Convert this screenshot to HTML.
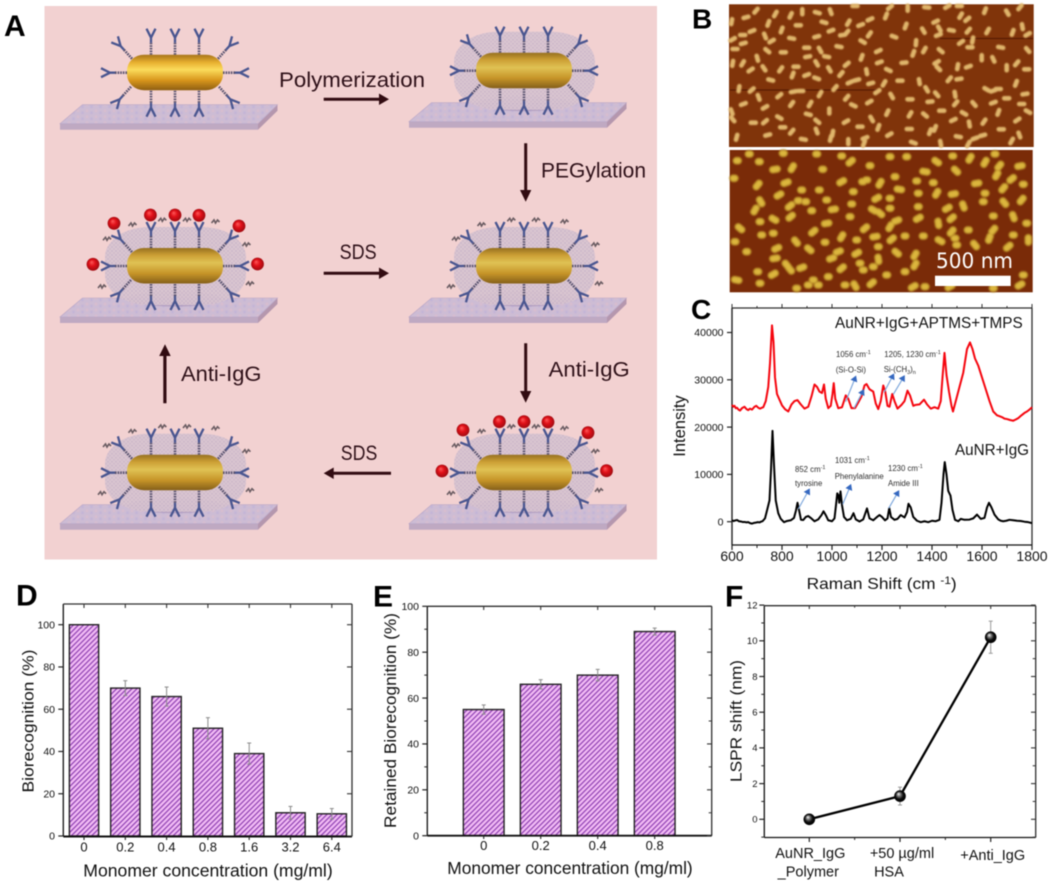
<!DOCTYPE html>
<html lang="en">
<head>
<meta charset="utf-8">
<title>Nanorod biorecognition figure</title>
<style>
html,body{margin:0;padding:0;background:#fff;}
body{width:1050px;height:885px;overflow:hidden;}
svg{display:block;filter:blur(.55px);font-family:"Liberation Sans",sans-serif;}
</style>
</head>
<body>
<svg id="figure" width="1050" height="885" viewBox="0 0 1050 885">
<defs>
  <filter id="soft" x="-5%" y="-5%" width="110%" height="110%"><feGaussianBlur stdDeviation=".7"/></filter>
  <linearGradient id="rodBright" x1="0" y1="0" x2="0" y2="1">
    <stop offset="0" stop-color="#a8741a"/><stop offset=".22" stop-color="#e8b030"/><stop offset=".42" stop-color="#fbdc5c"/><stop offset=".72" stop-color="#d8961c"/><stop offset="1" stop-color="#8f5f12"/>
  </linearGradient>
  <linearGradient id="rodDull" x1="0" y1="0" x2="0" y2="1">
    <stop offset="0" stop-color="#96701f"/><stop offset=".2" stop-color="#cc9f34"/><stop offset=".42" stop-color="#e0c254"/><stop offset=".72" stop-color="#c69428"/><stop offset="1" stop-color="#85601a"/>
  </linearGradient>
  <radialGradient id="ballRed" cx=".5" cy=".5" r=".55" fx=".38" fy=".32">
    <stop offset="0" stop-color="#ff5a5a"/><stop offset=".45" stop-color="#e01018"/><stop offset="1" stop-color="#960a10"/>
  </radialGradient>
  <radialGradient id="sphere" cx=".5" cy=".5" r=".55" fx=".36" fy=".3">
    <stop offset="0" stop-color="#ffffff"/><stop offset=".3" stop-color="#777"/><stop offset=".62" stop-color="#0a0a0a"/><stop offset="1" stop-color="#000"/>
  </radialGradient>
  <pattern id="hatch" width="3.6" height="3.6" patternUnits="userSpaceOnUse" patternTransform="rotate(45)">
    <rect width="3.6" height="3.6" fill="#f2bcf5"/>
    <rect width="1.3" height="3.6" fill="#9448b6"/>
  </pattern>
  <pattern id="stipple" width="4" height="4" patternUnits="userSpaceOnUse">
    <rect width="4" height="4" fill="#d8c4d0"/>
    <circle cx="1" cy="1" r=".8" fill="#c3aec6"/>
    <circle cx="3" cy="3" r=".8" fill="#c8b3c8"/>
  </pattern>
  <pattern id="mottle" width="9" height="6" patternUnits="userSpaceOnUse">
    <rect width="9" height="6" fill="#cdbcd4"/>
    <circle cx="2" cy="2" r="1.6" fill="#d6bdd0"/>
    <circle cx="6.5" cy="4" r="1.4" fill="#c4b5d6"/>
  </pattern>
  <g id="antibody">
    <line x1="0" y1="0" x2="0" y2="-12" stroke="#5a5470" stroke-width="2.6" stroke-dasharray="1.6 1"/>
    <path d="M0-12V-17M-4.5-26L0-17L4.5-26" fill="none" stroke="#4a5690" stroke-width="2.3"/>
  </g>
  <path id="peg" d="M-4 2L-1.5-1L0 2L2-1L4 1" fill="none" stroke="#6a5c62" stroke-width="1.6"/>
</defs>

<rect width="1050" height="885" fill="#ffffff"/>

<g id="panelA">
  <rect x="44.5" y="6" width="612.5" height="553.5" fill="#f2d1d1"/>
  <g id="units"></g>
  <g fill="#320c12" stroke="#320c12">
    <path d="M323.7 97.8H379V93.5L389 99.3L379 105V100.8H323.7Z" stroke="none"/>
    <path d="M524.2 143.3H527.2V190H531.3L525.7 201.7L520 190H524.2Z" stroke="none"/>
    <path d="M323.7 271.8H379V267.5L389 273.3L379 279V274.8H323.7Z" stroke="none"/>
    <path d="M524.2 343.3H527.2V391H531.3L525.7 402.7L520 391H524.2Z" stroke="none"/>
    <path d="M391 471.8H333.7V467.5L323.7 473.3L333.7 479V474.8H391Z" stroke="none"/>
    <path d="M163.3 403.3H166.5V356H170.7L165 344.3L159.2 356H163.3Z" stroke="none"/>
  </g>
  <g fill="#2e1018" font-size="21.5">
    <text x="279" y="87" textLength="146" lengthAdjust="spacingAndGlyphs">Polymerization</text>
    <text x="541" y="177.5" textLength="105" lengthAdjust="spacingAndGlyphs">PEGylation</text>
    <text x="339.6" y="259" textLength="37" lengthAdjust="spacingAndGlyphs">SDS</text>
    <text x="548.7" y="376.5" textLength="81" lengthAdjust="spacingAndGlyphs">Anti-IgG</text>
    <text x="181" y="381" textLength="80.5" lengthAdjust="spacingAndGlyphs">Anti-IgG</text>
    <text x="340.8" y="460" textLength="36.5" lengthAdjust="spacingAndGlyphs">SDS</text>
  </g>
</g>

<g id="panelB">
  <rect x="729" y="4.3" width="304.7" height="142.7" fill="#80340a"/>
  <rect x="729.7" y="150" width="303" height="142.3" fill="#7a2b08"/>
  <path d="M940 38.5H1033M730 90H880" stroke="#5a1c03" stroke-width="1.2" fill="none"/>
  <g filter="url(#soft)">
    <path id="rodsTop" fill="none" stroke="#e0b66c" stroke-width="4.6" stroke-linecap="round"/>
    <path id="rodsBottom" fill="none" stroke="#b88a26" stroke-width="7.8" stroke-linecap="round"/>
    <path id="rodsBottomCore" fill="none" stroke="#dcb63e" stroke-width="4.8" stroke-linecap="round"/>
  </g>
  <rect x="935" y="275.7" width="75.7" height="10.3" fill="#ffffff"/>
  <text x="936" y="268" font-family="'DejaVu Sans',sans-serif" font-size="21" fill="#ffffff" textLength="77" lengthAdjust="spacingAndGlyphs">500 nm</text>
</g>

<g id="panelC">
  <g id="cAxes"></g>
  <path id="redLine" fill="none" stroke="#f5060f" stroke-width="2" stroke-linejoin="round"/>
  <path id="blackLine" fill="none" stroke="#000" stroke-width="2" stroke-linejoin="round"/>
  <text x="835" y="328" font-size="16" fill="#111" textLength="187.7" lengthAdjust="spacingAndGlyphs">AuNR+IgG+APTMS+TMPS</text>
  <text x="955" y="455" font-size="16" fill="#111" textLength="74" lengthAdjust="spacingAndGlyphs">AuNR+IgG</text>
  <g font-size="7.8" fill="#2e2e2e">
    <text x="836" y="357">1056 cm<tspan dy="-3" font-size="5.5">-1</tspan></text>
    <text x="835.7" y="372.7">(Si-O-Si)</text>
    <text x="884.3" y="357">1205, 1230 cm<tspan dy="-3" font-size="5.5">-1</tspan></text>
    <text x="883.7" y="372">Si-(CH<tspan dy="2" font-size="5.5">3</tspan><tspan dy="-2">)</tspan><tspan dy="2" font-size="5.5">n</tspan></text>
    <text x="795" y="472">852 cm<tspan dy="-3" font-size="5.5">-1</tspan></text>
    <text x="795" y="486">tyrosine</text>
    <text x="835" y="463">1031 cm<tspan dy="-3" font-size="5.5">-1</tspan></text>
    <text x="834.7" y="479">Phenylalanine</text>
    <text x="888" y="471">1230 cm<tspan dy="-3" font-size="5.5">-1</tspan></text>
    <text x="888" y="486">Amide III</text>
  </g>
  <g id="peakArrows"></g>
  <text transform="translate(685,426) rotate(-90)" text-anchor="middle" font-size="16.5" fill="#111">Intensity</text>
  <text x="806.7" y="589" font-size="16" fill="#111" textLength="150" lengthAdjust="spacingAndGlyphs">Raman Shift (cm <tspan dy="-5" font-size="11">-1</tspan><tspan dy="5">)</tspan></text>
</g>

<g id="panelD">
  <g id="dChart"></g>
  <text transform="translate(33.5,721) rotate(-90)" text-anchor="middle" font-size="16" fill="#111" textLength="143" lengthAdjust="spacingAndGlyphs">Biorecognition (%)</text>
  <text x="83.3" y="876.5" font-size="17.5" fill="#111" textLength="249.4" lengthAdjust="spacingAndGlyphs">Monomer concentration (mg/ml)</text>
</g>

<g id="panelE">
  <g id="eChart"></g>
  <text transform="translate(396,720.5) rotate(-90)" text-anchor="middle" font-size="16.5" fill="#111" textLength="215" lengthAdjust="spacingAndGlyphs">Retained Biorecognition (%)</text>
  <text x="447.3" y="874" font-size="17.2" fill="#111" textLength="245.4" lengthAdjust="spacingAndGlyphs">Monomer concentration (mg/ml)</text>
</g>

<g id="panelF">
  <g id="fChart"></g>
  <text transform="translate(741.7,721) rotate(-90)" text-anchor="middle" font-size="15.5" fill="#111" textLength="122" lengthAdjust="spacingAndGlyphs">LSPR shift (nm)</text>
</g>

<g font-weight="700" fill="#000">
  <text x="4" y="36" font-size="30">A</text>
  <text x="692" y="28.3" font-size="28">B</text>
  <text x="691" y="319" font-size="28">C</text>
  <text x="16" y="605.5" font-size="30">D</text>
  <text x="373" y="606.5" font-size="30">E</text>
  <text x="725" y="606.5" font-size="30">F</text>
</g>
</svg>

<script>
/* ---------- Chart data ---------- */
const ramanTicksX = [600,800,1000,1200,1400,1600,1800];
const ramanMinorX = [700,900,1100,1300,1500,1700];
const ramanTicksY = [0,10000,20000,30000,40000];

const blackShift = [600,606,612,620,628,635,642,650,658,665,672,680,688,695,702,710,716,722,732,742,750,756,762,768,775,785,795,808,820,835,848,856,862,868,876,885,895,905,915,930,945,958,966,975,985,1000,1010,1016,1021,1026,1029,1034,1040,1048,1060,1075,1086,1095,1110,1125,1140,1150,1165,1180,1190,1200,1212,1222,1229,1236,1250,1262,1275,1290,1300,1306,1315,1325,1340,1355,1370,1385,1400,1415,1430,1438,1446,1451,1458,1465,1474,1482,1492,1505,1515,1530,1550,1565,1580,1595,1610,1620,1628,1638,1650,1665,1675,1685,1697,1710,1725,1740,1755,1770,1785,1800];
const blackIntensity = [300,150,250,350,100,50,-50,-50,-150,-100,-300,-400,-250,-200,-100,-150,0,100,700,2800,4500,11000,19200,12000,4500,1800,600,-100,150,300,800,2400,4000,2500,400,350,1000,1200,800,100,500,1400,2200,1400,300,100,700,3500,6000,5500,4000,6400,3500,1000,300,600,1800,500,50,500,2800,700,300,1000,1400,1000,300,700,2900,1000,400,600,1400,900,2000,3800,3000,1000,200,-100,100,-100,200,100,400,4000,10000,12600,10000,6500,5500,2500,400,100,600,400,450,700,1500,600,800,3000,4000,3000,1500,500,200,100,200,400,300,200,150,0,-100,-300];

const redShift = [600,605,610,615,620,626,632,640,650,658,665,672,680,690,697,705,712,720,725,735,745,752,760,766,772,780,790,800,812,825,838,850,862,875,890,905,918,930,940,950,960,968,975,985,995,1002,1007,1013,1025,1040,1055,1065,1078,1092,1105,1118,1130,1138,1150,1165,1175,1185,1195,1205,1213,1222,1230,1241,1250,1262,1278,1290,1302,1312,1325,1335,1350,1368,1380,1395,1410,1425,1435,1442,1450,1458,1468,1478,1484,1495,1510,1525,1540,1552,1562,1572,1585,1600,1615,1630,1645,1660,1670,1680,1690,1700,1712,1725,1735,1745,1758,1770,1780,1790,1800];
const redIntensity = [24700,24300,24500,24000,24100,23700,23500,24000,24300,23800,23600,23900,23700,24300,24500,24100,23900,24100,24200,25500,28500,33500,41500,38000,30500,27000,25800,24600,23800,23300,24800,25500,25700,24800,23900,24300,26500,29000,28500,27500,27200,29000,26000,24000,24500,27000,29300,26000,24000,24200,26700,26000,24000,24000,25200,26500,28800,29100,28000,27500,25000,23800,25500,28800,27500,24500,24300,27000,25500,23900,24700,25500,27700,26700,24500,24700,24800,25800,24800,23900,24200,23900,25500,30500,35700,31000,27500,24500,23300,25500,28500,31500,36500,37900,36500,34500,33000,30500,28000,25500,23300,22500,22300,22100,21800,21700,21500,21350,21600,21900,22500,23000,23300,23700,24200];

const dCategories = ['0','0.2','0.4','0.8','1.6','3.2','6.4'];
const dValues = [100,70,66,51,39,11,10.5];
const dErrors = [0,3.5,4.5,5,5,3,2.5];
const dTicksY = [0,20,40,60,80,100];

const eCategories = ['0','0.2','0.4','0.8'];
const eValues = [55,66,70,89];
const eErrors = [2,2,2.5,1.5];
const eTicksY = [0,20,40,60,80,100];
const eMinorY = [10,30,50,70,90];

const fCategories = [['AuNR_IgG','_Polymer'],['+50 µg/ml','HSA'],['+Anti_IgG']];
const fValues = [0,1.3,10.2];
const fErrors = [0,0.5,0.9];
const fTicksY = [0,2,4,6,8,10,12];
const fMinorY = [-1,1,3,5,7,9,11];

/* ---------- Axis functions ---------- */
const xC = w => 732 + (w - 600) * 0.25;
const yC = v => 521.7 - v * 0.00473;
const xD = i => 84 + i * 41.3;
const yD = v => 836 - v * 2.113;
const xE = i => 483.7 + i * 57;
const yE = v => 835.7 - v * 2.294;
const xF = i => 809.3 + i * 90.7;
const yF = v => 819.3 - v * 17.85;

/* ---------- Drawing helpers ---------- */
const root = document.getElementById('figure');
function make(tag, parent, attrs, name) {
  const n = document.createElementNS(root.namespaceURI, tag);
  for (const k in attrs) n.setAttribute(k, attrs[k]);
  
  
  parent.appendChild(n);
  return n;
}
function seg(parent, x1, y1, x2, y2, stroke, w, name) {
  return make('line', parent, {x1, y1, x2, y2, stroke, 'stroke-width': w}, name);
}
function txt(parent, x, y, s, size, anchor, fill, name) {
  const t = make('text', parent, {x, y, 'font-size': size, 'text-anchor': anchor, fill}, name);
  t.textContent = s;
  return t;
}
function frame(parent, l, t, r, b, thickBottom) {
  seg(parent, l, t, r, t, '#2e2e2e', 1.3, 'frame-top');
  seg(parent, r, t, r, b, '#2e2e2e', 1.3, 'frame-right');
  seg(parent, l, t, l, b, '#222', 1.4, 'frame-left');
  seg(parent, l, b, r, b, '#111', thickBottom, 'frame-bottom');
}
function barSeries(parent, cats, vals, errs, xf, yf, w, base, labelY) {
  cats.forEach((c, i) => {
    const top = yf(vals[i]);
    make('rect', parent, {x: xf(i) - w / 2, y: top, width: w, height: base - top, fill: 'url(#hatch)', stroke: '#222', 'stroke-width': 1.4}, 'bar-' + c);
    if (errs[i] > 0) {
      const u = yf(vals[i] + errs[i]), d = yf(vals[i] - errs[i]);
      seg(parent, xf(i), u, xf(i), d, '#8a8a8a', 1, 'error-bar-' + c);
      seg(parent, xf(i) - 2, u, xf(i) + 2, u, '#8a8a8a', 1, 'error-cap-upper-' + c);
      seg(parent, xf(i) - 2, d, xf(i) + 2, d, '#8a8a8a', 1, 'error-cap-lower-' + c);
    }
    txt(parent, xf(i), labelY, c, 13, 'middle', '#111', 'x-tick-label-' + c);
  });
}

/* ---------- Panel C ---------- */
const cAxes = document.getElementById('cAxes');
frame(cAxes, 732, 308, 1032, 545, 1.3);
ramanTicksX.forEach(t => {
  seg(cAxes, xC(t), 545, xC(t), 550, '#222', 1.2, 'x-tick-' + t);
  seg(cAxes, xC(t), 308, xC(t), 304, '#333', 1, 'x-top-tick-' + t);
  txt(cAxes, xC(t), 561, String(t), 14, 'middle', '#111', 'x-tick-label-' + t);
});
ramanMinorX.forEach(t => {
  seg(cAxes, xC(t), 545, xC(t), 548, '#222', 1, 'x-minor-tick-' + t);
  seg(cAxes, xC(t), 308, xC(t), 306, '#333', 1, 'x-top-minor-tick-' + t);
});
ramanTicksY.forEach(t => {
  seg(cAxes, 732, yC(t), 727, yC(t), '#222', 1.2, 'y-tick-' + t);
  txt(cAxes, 723.5, yC(t) + 3.7, String(t), 10.5, 'end', '#111', 'y-tick-label-' + t);
});
function linePath(xs, ys) {
  return xs.map((x, i) => (i ? 'L' : 'M') + xC(x).toFixed(2) + ' ' + yC(ys[i]).toFixed(2)).join('');
}
document.getElementById('redLine').setAttribute('d', linePath(redShift, redIntensity));
document.getElementById('blackLine').setAttribute('d', linePath(blackShift, blackIntensity));

const peakArrowG = document.getElementById('peakArrows');
[[845.7,401.7,855,378.3],[854,408.3,862.7,391.7],[884,392.3,892.7,376],[893.3,394.3,903.3,377.7],[798.3,509,808.3,491],[842.7,504.3,850,486.7],[888.7,508.3,897.7,492.7]].forEach((a, i) => {
  seg(peakArrowG, a[0], a[1], a[2], a[3], '#7fa8dc', 1.2, 'peak-arrow-shaft-' + i);
  const ang = Math.atan2(a[3] - a[1], a[2] - a[0]);
  const px = a[2] + Math.cos(ang) * 3, py = a[3] + Math.sin(ang) * 3;
  const bx = a[2] - Math.cos(ang) * 3, by = a[3] - Math.sin(ang) * 3;
  const nx = -Math.sin(ang) * 3.6, ny = Math.cos(ang) * 3.6;
  make('polygon', peakArrowG, {points: [px, py, bx + nx, by + ny, bx - nx, by - ny].map(v => v.toFixed(1)).join(' '), fill: '#3568c0'}, 'peak-arrow-head-' + i);
});

/* ---------- Panel D ---------- */
const dG = document.getElementById('dChart');
barSeries(dG, dCategories, dValues, dErrors, xD, yD, 29.3, 836, 851.7);
frame(dG, 63.3, 604, 352, 836.5, 1.9);
dCategories.forEach((c, i) => {
  seg(dG, xD(i), 836.5, xD(i), 840, '#222', 1.1, 'x-tick-' + c);
  seg(dG, xD(i), 604, xD(i), 608, '#333', 1.1, 'x-top-tick-' + c);
});
dTicksY.forEach(t => {
  seg(dG, 63.3, yD(t), 58.3, yD(t), '#222', 1.2, 'y-tick-' + t);
  seg(dG, 352, yD(t), 347, yD(t), '#333', 1.1, 'y-right-tick-' + t);
  txt(dG, 55, yD(t) + 3.7, String(t), 10.5, 'end', '#111', 'y-tick-label-' + t);
});

/* ---------- Panel E ---------- */
const eG = document.getElementById('eChart');
barSeries(eG, eCategories, eValues, eErrors, xE, yE, 40.7, 835.7, 850);
frame(eG, 427.3, 606.3, 711.7, 835.7, 1.9);
eCategories.forEach((c, i) => {
  seg(eG, xE(i), 835.7, xE(i), 839, '#222', 1.1, 'x-tick-' + c);
  seg(eG, xE(i), 606.3, xE(i), 610, '#333', 1.1, 'x-top-tick-' + c);
});
eTicksY.forEach(t => {
  seg(eG, 427.3, yE(t), 422.3, yE(t), '#222', 1.2, 'y-tick-' + t);
  seg(eG, 711.7, yE(t), 707, yE(t), '#333', 1.1, 'y-right-tick-' + t);
  txt(eG, 419, yE(t) + 3.7, String(t), 10.5, 'end', '#111', 'y-tick-label-' + t);
});
eMinorY.forEach(t => {
  seg(eG, 427.3, yE(t), 424.3, yE(t), '#222', 1, 'y-minor-tick-' + t);
  seg(eG, 711.7, yE(t), 708.7, yE(t), '#333', 1, 'y-right-minor-tick-' + t);
});

/* ---------- Panel F ---------- */
const fG = document.getElementById('fChart');
frame(fG, 764.3, 605.7, 1035.7, 837.5, 1.3);
fTicksY.forEach(t => {
  seg(fG, 764.3, yF(t), 759.3, yF(t), '#222', 1.2, 'y-tick-' + t);
  seg(fG, 1035.7, yF(t), 1031, yF(t), '#333', 1.1, 'y-right-tick-' + t);
  txt(fG, 757.5, yF(t) + 3.3, String(t), 9.5, 'end', '#111', 'y-tick-label-' + t);
});
fMinorY.forEach(t => {
  seg(fG, 764.3, yF(t), 761.3, yF(t), '#222', 1, 'y-minor-tick-' + t);
  seg(fG, 1035.7, yF(t), 1032.7, yF(t), '#333', 1, 'y-right-minor-tick-' + t);
});
fCategories.forEach((c, i) => {
  seg(fG, xF(i), 837.5, xF(i), 842, '#222', 1.2, 'x-tick-' + i);
  seg(fG, xF(i), 605.7, xF(i), 609, '#333', 1.1, 'x-top-tick-' + i);
  if (i < fCategories.length - 1) {
    seg(fG, xF(i + 0.5), 837.5, xF(i + 0.5), 840, '#222', 1, 'x-minor-tick-' + i);
    seg(fG, xF(i + 0.5), 605.7, xF(i + 0.5), 607.7, '#333', 1, 'x-top-minor-tick-' + i);
  }
  txt(fG, xF(i) + (i === 2 ? 2 : i === 1 ? 2 : 1), c.length > 1 ? 858 : 860, c[0], 14.5, 'middle', '#111', 'x-tick-label-' + i);
  if (c[1]) txt(fG, xF(i) + (i === 1 ? -11 : -1), 876.7, c[1], 14.5, 'middle', '#111', 'x-tick-label-line2-' + i);
});
make('path', fG, {d: fValues.map((v, i) => (i ? 'L' : 'M') + xF(i) + ' ' + yF(v)).join(''), fill: 'none', stroke: '#000', 'stroke-width': 2.3}, 'lspr-line');
fValues.forEach((v, i) => {
  if (fErrors[i] > 0) {
    const u = yF(v + fErrors[i]), d = yF(v - fErrors[i]);
    seg(fG, xF(i), u, xF(i), d, '#999', 1, 'error-bar-' + i);
    seg(fG, xF(i) - 2, u, xF(i) + 2, u, '#999', 1, 'error-cap-upper-' + i);
    seg(fG, xF(i) - 2, d, xF(i) + 2, d, '#999', 1, 'error-cap-lower-' + i);
  }
  make('circle', fG, {cx: xF(i), cy: yF(v), r: 5.8, fill: 'url(#sphere)'}, 'lspr-point-' + i);
});

/* ---------- Panel A units ---------- */
const unitsG = document.getElementById('units');
const antibodySpots = [[-24,-18,0],[0,-18,0],[24,-18,0],[-24,18,180],[0,18,180],[24,18,180],[-48,0,-90],[48,0,90],[-43,-14,-42],[43,-14,42],[-44,14,-138],[44,14,138]];
const ballSpots = [[-24.6,-51],[0,-51],[24,-50.7],[-61,-42.7],[64,-40],[-82,-1.7],[82.5,-2]];
const pegSpots = [[-42.5,-42],[-12.7,-46.7],[12,-46.7],[40.5,-45],[-68,-27.7],[71.4,-22],[-73,20],[75,17]];
[
  {x:175,y:72.7,shell:false,balls:false,peg:false,name:'bare-nanorod'},
  {x:524,y:70.7,shell:true,balls:false,peg:false,name:'polymerized-nanorod'},
  {x:175,y:266,shell:true,balls:true,peg:true,name:'bound-nanorod-left'},
  {x:524,y:266,shell:true,balls:false,peg:true,name:'pegylated-nanorod'},
  {x:524,y:472.7,shell:true,balls:true,peg:true,name:'bound-nanorod-right'},
  {x:175,y:472.7,shell:true,balls:false,peg:true,name:'regenerated-nanorod'}
].forEach(u => {
  const g = make('g', unitsG, {transform: 'translate(' + u.x + ',' + u.y + ')'}, u.name);
  make('polygon', g, {points: '-115,51 83,51 83,57 -115,57', fill: '#bfa9c2'}, 'substrate-front');
  make('polygon', g, {points: '83,51 102.5,32 102.5,38 83,57', fill: '#b597ae'}, 'substrate-side');
  make('polygon', g, {points: '-92.5,32 102.5,32 83,51 -115,51', fill: 'url(#mottle)', stroke: '#b8a6c6', 'stroke-width': .6}, 'substrate-top');
  if (u.shell) {
    make('ellipse', g, {cx: 0, cy: 33, rx: 47, ry: 7.5, fill: '#a996bb', opacity: .7}, 'polymer-footprint');
    make('rect', g, {x: -70, y: -39, width: 141, height: 78, rx: 44, ry: 30, fill: 'url(#stipple)', opacity: .95}, 'polymer-shell');
  }
  antibodySpots.forEach((s, i) => {
    make('use', g, {href: '#antibody', transform: 'translate(' + s[0] + ',' + s[1] + ') rotate(' + s[2] + ')'}, 'antibody-' + i);
  });
  make('rect', g, {x: -48, y: -18, width: 96, height: 35.5, rx: 17, ry: 16, fill: u.shell ? 'url(#rodDull)' : 'url(#rodBright)'}, 'gold-nanorod');
  if (u.peg) pegSpots.forEach((s, i) => {
    make('use', g, {href: '#peg', transform: 'translate(' + s[0] + ',' + s[1] + ')'}, 'peg-chain-' + i);
  });
  if (u.balls) ballSpots.forEach((s, i) => {
    make('circle', g, {cx: s[0], cy: s[1], r: 6.4, fill: 'url(#ballRed)'}, 'anti-igg-' + i);
  });
});

/* ---------- Panel B rods: x, y, angle (3x crop coordinates) ---------- */
const topRods = [[288,32,-50],[346,42,-60],[392,46,-65],[427,35,90],[472,38,15],[512,35,70],[585,18,0],[690,22,-40],[743,25,90],[800,22,5],[862,20,-30],[898,18,0],[975,32,-70],[1042,38,60],[1080,22,-50],[678,48,-70],[902,47,-60],[258,52,-15],[215,65,-80],[325,70,-70],[415,76,0],[492,67,15],[565,68,-60],[602,75,-20],[630,58,-25],[737,78,-70],[827,65,-25],[922,58,-40],[1087,80,80],[276,93,-20],[248,105,0],[365,90,-70],[513,92,-20],[560,98,-50],[628,103,-55],[702,110,20],[790,92,60],[838,86,60],[874,91,10],[925,92,-50],[983,93,-60],[1058,97,-70],[1103,103,-30],[835,105,-20],[315,108,70],[395,115,10],[470,110,-15],[548,105,-10],[218,118,-30],[250,130,-15],[335,123,-30],[225,147,0],[322,152,40],[370,157,0],[440,143,0],[480,150,60],[537,140,10],[608,125,30],[655,153,-25],[768,128,-85],[760,160,-70],[793,150,-60],[842,152,40],[903,127,-35],[938,120,-80],[930,142,0],[1022,142,10],[1103,150,50],[292,175,75],[248,190,-60],[218,190,-80],[443,170,-10],[500,170,10],[605,172,-70],[658,187,-20],[560,193,-40],[732,188,-5],[830,187,-30],[965,173,90],[1000,178,65],[1070,190,-50],[470,190,60],[408,200,0],[835,205,45],[272,210,-35],[312,205,55],[362,208,-55],[398,225,-70],[440,225,-20],[508,208,60],[543,222,-50],[620,215,80],[685,210,25],[893,200,-80],[925,200,-20],[1040,203,90],[1100,208,0],[332,240,15],[470,235,20],[570,247,-25],[590,240,-15],[720,242,0],[778,245,80],[868,238,-50],[897,237,-10],[672,250,-60],[1068,250,-70],[237,266,-80],[275,270,-40],[400,275,-10],[422,273,0],[525,264,-50],[632,250,-15],[652,275,-35],[800,268,60],[695,288,60],[480,282,-60],[296,292,70],[358,287,-40],[830,283,50],[885,283,80],[980,268,30],[1000,272,-20],[1015,267,0],[1095,282,-10],[1040,295,0],[560,293,-50],[750,298,0],[810,305,-5],[250,312,-20],[315,322,-30],[395,312,-55],[450,312,-60],[580,316,25],[628,306,-30],[942,312,50],[887,310,-50],[1000,308,-20],[1085,312,0],[508,333,90],[682,338,-65],[750,343,-60],[845,332,0],[1015,337,-70],[1104,335,30],[215,335,70],[445,343,15],[358,353,30],[218,358,50],[635,357,60],[795,345,40],[912,340,30],[280,368,0],[315,365,-40],[558,365,-30],[472,364,40],[880,360,-25],[928,372,80],[972,365,-55],[1072,360,-35],[368,382,0],[600,380,0],[655,382,-70],[748,387,0],[825,385,-70],[810,395,-70],[1024,388,0],[395,395,-50],[470,393,70],[230,412,-75],[323,405,-15],[518,400,-80],[512,415,-75],[615,414,-20],[688,404,-30],[895,410,10],[968,406,-15],[945,415,-20],[1078,405,70],[430,418,10],[760,428,20],[1055,423,-60],[842,430,80],[565,425,90],[612,430,-70],[925,432,-60]];
const bottomRods = [[370,460,0],[268,462,0],[232,482,0],[298,485,0],[345,508,-10],[397,503,-60],[470,462,0],[545,468,0],[572,485,-40],[630,497,0],[690,470,0],[740,470,0],[488,508,0],[830,485,35],[878,468,0],[930,475,-60],[975,487,-60],[1005,462,0],[1080,498,-10],[705,530,0],[620,540,0],[770,543,0],[888,512,45],[1018,498,-50],[795,515,10],[1010,525,-60],[222,535,0],[293,555,-50],[378,548,-20],[545,545,-30],[608,545,0],[660,550,-60],[820,548,0],[950,550,-10],[1055,537,-40],[1090,553,0],[425,570,0],[478,570,0],[580,575,0],[718,568,10],[775,580,0],[830,580,-60],[880,582,-10],[1030,565,-50],[975,580,0],[357,585,-30],[415,602,0],[500,600,0],[302,605,60],[437,605,0],[650,595,-30],[690,595,0],[285,630,-60],[390,618,-40],[455,632,0],[520,628,-10],[575,612,0],[690,625,0],[775,620,0],[862,625,-30],[910,618,70],[970,605,0],[1033,608,50],[1085,600,-50],[640,630,30],[300,665,0],[342,658,30],[392,650,-40],[240,685,40],[500,670,-10],[570,650,0],[660,640,40],[710,662,-20],[775,655,-30],[835,670,80],[875,655,-40],[1000,648,0],[1060,650,70],[1100,670,0],[340,700,0],[460,695,-40],[305,705,0],[615,685,-40],[690,680,-60],[875,695,-50],[925,690,0],[1000,690,-50],[1060,705,0],[645,710,-10],[735,708,0],[695,718,-40],[225,725,0],[408,725,50],[495,727,0],[545,710,-60],[590,720,0],[790,708,0],[840,722,30],[885,715,0],[988,715,-70],[1105,720,90],[945,735,50],[350,745,-25],[260,755,0],[448,748,40],[590,760,-30],[655,740,0],[535,755,-20],[710,758,40],[1045,740,-40],[765,765,-60],[890,735,0],[345,775,-10],[515,775,-20],[655,778,80],[600,790,0],[380,795,50],[390,808,50],[425,803,-20],[545,805,-40],[293,815,0],[340,823,-30],[640,800,0],[610,810,0],[765,795,-60],[505,830,0],[460,840,0],[445,855,0],[475,855,0],[300,850,0],[680,825,0],[735,815,0],[1090,825,0],[635,850,-40],[555,855,0],[585,857,60],[760,860,-30],[795,860,0],[410,865,0],[1080,855,-30],[870,860,-30],[1000,865,0],[230,840,10]];
function rodPath(list, half, flatHalf, yMin, yMax) {
  let d = '';
  list.forEach(r => {
    const a = r[2] * Math.PI / 180;
    const cx = 660 + r[0] / 3, cy = r[1] / 3;
    if (cy < yMin || cy > yMax) return;
    const h = r[2] === 0 ? flatHalf : half;
    d += 'M' + (cx - Math.cos(a) * h).toFixed(1) + ' ' + (cy - Math.sin(a) * h).toFixed(1) +
         'L' + (cx + Math.cos(a) * h).toFixed(1) + ' ' + (cy + Math.sin(a) * h).toFixed(1);
  });
  return d;
}
document.getElementById('rodsTop').setAttribute('d', rodPath(topRods, 2.5, 2.5, 6, 145));
const bottomD = rodPath(bottomRods, 2.2, 0.9, 153, 290);
document.getElementById('rodsBottom').setAttribute('d', bottomD);
document.getElementById('rodsBottomCore').setAttribute('d', bottomD);
</script>
</body>
</html>
